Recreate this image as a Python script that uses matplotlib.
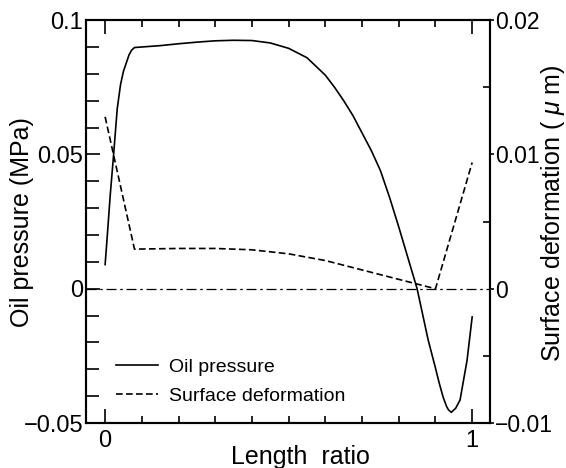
import matplotlib

matplotlib.use("Agg")
import matplotlib.pyplot as plt
from matplotlib.ticker import MultipleLocator, FixedLocator

plt.rcParams["font.family"] = ["Liberation Sans", "DejaVu Sans"]
plt.rcParams["mathtext.fontset"] = "custom"
plt.rcParams["mathtext.it"] = "Liberation Sans:italic"
plt.rcParams["mathtext.rm"] = "Liberation Sans"

# oil pressure (MPa) vs length ratio
pressure_x = [0.0, 0.005, 0.014, 0.022, 0.033, 0.042, 0.05, 0.065, 0.072, 0.08, 0.1,
              0.15, 0.2, 0.25, 0.3, 0.35, 0.4, 0.45, 0.5, 0.55, 0.6, 0.625, 0.65,
              0.675, 0.7, 0.725, 0.75, 0.775, 0.8, 0.825, 0.85, 0.88, 0.9, 0.91,
              0.921, 0.93, 0.935, 0.943, 0.955, 0.967, 0.986, 1.0]
pressure_y = [0.009, 0.018, 0.035, 0.048, 0.067, 0.076, 0.081, 0.087, 0.0888, 0.0898,
              0.09, 0.0905, 0.0912, 0.0918, 0.0923, 0.0925, 0.0924, 0.0915, 0.0895,
              0.086, 0.0795, 0.075, 0.070, 0.0645, 0.058, 0.0515, 0.044, 0.034,
              0.023, 0.0115, 0.0, -0.019, -0.0295, -0.035, -0.0404, -0.0437, -0.045,
              -0.046, -0.0445, -0.0414, -0.0267, -0.0105]

# surface deformation (um), right axis
deform_x = [0.0, 0.08, 0.2, 0.3, 0.4, 0.5, 0.6, 0.7, 0.8, 0.9, 1.0]
deform_y = [0.0128, 0.00295, 0.003, 0.003, 0.0029, 0.0026, 0.0021, 0.0014, 0.0007, 0.0, 0.0094]

fig = plt.figure(figsize=(5.66, 4.68), dpi=100)
ax = fig.add_axes([0.152, 0.096, 0.714, 0.861])
ax2 = ax.twinx()

ax.axhline(0, color="black", lw=0.9, linestyle=(0, (8, 3, 2, 3)))
line1, = ax.plot(pressure_x, pressure_y, color="black", lw=1.2, label="Oil pressure")
line2, = ax2.plot(deform_x, deform_y, color="black", lw=1.2, dashes=(4, 2),
                  label="Surface deformation")

ax.set_xlim(-0.052, 1.049)
ax.set_ylim(-0.05, 0.1)
ax2.set_ylim(-0.01, 0.02)

ax.xaxis.set_major_locator(FixedLocator([0, 1]))
ax.xaxis.set_minor_locator(MultipleLocator(0.1))
ax.set_xticklabels(["0", "1"])
ax.yaxis.set_major_locator(FixedLocator([-0.05, 0, 0.05, 0.1]))
ax.set_yticklabels(["\u22120.05", "0", "0.05", "0.1"])
ax.yaxis.set_minor_locator(MultipleLocator(0.01))
ax2.yaxis.set_major_locator(FixedLocator([-0.01, 0, 0.01, 0.02]))
ax2.set_yticklabels(["\u22120.01", "0", "0.01", "0.02"])
ax2.yaxis.set_minor_locator(MultipleLocator(0.005))

ax.tick_params(which="both", direction="in", top=True, labelsize=17, width=1.2)
ax.tick_params(axis="y", which="major", length=10, pad=2)
ax.tick_params(axis="y", which="minor", length=9, right=False)
ax.tick_params(axis="x", which="major", length=10, pad=5)
ax.tick_params(axis="x", which="minor", length=5)
ax2.tick_params(which="major", direction="out", length=3, pad=0.5, labelsize=16.5, width=1.2)
ax2.tick_params(which="minor", direction="in", length=5, width=1.2)

for spine in list(ax.spines.values()) + list(ax2.spines.values()):
    spine.set_linewidth(1.5)

ax.set_xlabel("Length  ratio", fontsize=18)
ax.xaxis.set_label_coords(0.53, -0.055)
ax.set_ylabel("Oil pressure (MPa)", fontsize=18, va="center")
ax.yaxis.set_label_coords(-0.158, 0.5)
ax2.set_ylabel("Surface deformation ( $\\mu$ m)", fontsize=18, rotation=90, va="center")
ax2.yaxis.set_label_coords(1.156, 0.52)

ax.legend([line1, line2], ["Oil pressure", "Surface deformation"], loc="upper left",
          bbox_to_anchor=(0.074, 0.16), borderaxespad=0, borderpad=0, frameon=False,
          fontsize=14, handlelength=2.15, handletextpad=0.57, labelspacing=0.55)

fig.savefig("out.png", dpi=100)
